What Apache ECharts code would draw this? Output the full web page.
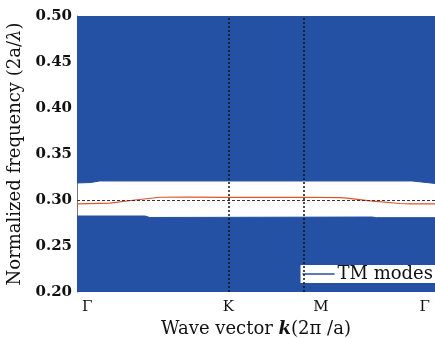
<!DOCTYPE html>
<html>
<head>
<meta charset="utf-8">
<script src="https://cdn.jsdelivr.net/npm/echarts@6/dist/echarts.min.js"></script>
<style>
  html, body { margin: 0; padding: 0; background: #fff; }
  #chart { width: 435px; height: 338px; }
</style>
</head>
<body>
<div id="chart"></div>
<script>
// symmetry points along Γ-K-M-Γ (units 2π/a)
const kPoints = [0, 0.667, 1.0, 1.577]
const kLabels = ['Γ', 'K', 'M', 'Γ']

// lower edge of the gap (top of the lower TM band block)
const lowerK = [0, 0.30, 0.32, 1.30, 1.32, 1.577]
const lowerF = [0.2826, 0.2826, 0.2810, 0.2815, 0.2808, 0.2808]

// upper edge of the gap (bottom of the upper TM band block)
const upperK = [0, 0.06, 0.10, 1.476, 1.577]
const upperF = [0.3185, 0.3190, 0.3207, 0.3207, 0.3180]

// defect mode (red)
const defectK = [0, 0.145, 0.255, 0.366, 0.50, 0.667, 0.85, 1.0, 1.159, 1.189, 1.291, 1.423, 1.467, 1.577]
const defectF = [0.2957, 0.2965, 0.300, 0.3030, 0.3032, 0.3028, 0.3028, 0.3030, 0.3025, 0.3020, 0.2990, 0.2962, 0.2957, 0.2957]

const refFreq = 0.30

const pairs = (xs, ys) => xs.map((x, i) => [x, ys[i]])

const blue = '#2451a3'
const serif = '"DejaVu Serif", "Liberation Serif", serif'

const chart = echarts.init(document.getElementById('chart'))

const option = {
  animation: false,
  grid: { left: 77, right: 0, top: 16, bottom: 46, outerBoundsMode: 'none' },
  legend: {
    data: ['TM modes'],
    right: 0,
    bottom: 55,
    icon: 'rect',
    itemWidth: 32,
    itemHeight: 1.5,
    itemGap: 2,
    backgroundColor: '#fff',
    padding: [0, 2, 0, 2],
    textStyle: { fontFamily: serif, fontSize: 18, color: '#111', lineHeight: 16, padding: [0, 0, 0, -2] }
  },
  xAxis: {
    type: 'value',
    min: 0,
    max: 1.577,
    name: 'Wave vector {b|k}(2π /a)',
    nameLocation: 'middle',
    nameGap: 27,
    nameTextStyle: {
      fontFamily: serif, fontSize: 18, color: '#111',
      rich: { b: { fontFamily: serif, fontSize: 18, fontWeight: 'bold', fontStyle: 'italic', color: '#111' } }
    },
    splitLine: { show: false },
    axisLine: { show: false },
    axisTick: { show: false },
    axisLabel: {
      customValues: kPoints,
      alignMinLabel: 'left',
      alignMaxLabel: 'right',
      margin: 8,
      padding: [0, 5, 0, 5],
      fontFamily: serif, fontSize: 15, color: '#111',
      formatter: v => {
        const lab = kLabels[kPoints.indexOf(v)] || ''
        return v === kPoints[2] ? '{m|' + lab + '}' : lab
      },
      rich: { m: { fontFamily: serif, fontSize: 15, color: '#111', padding: [0, 0, 0, 34] } }
    }
  },
  yAxis: {
    type: 'value',
    min: 0.2,
    max: 0.5,
    interval: 0.05,
    name: 'Normalized frequency (2a/{i|λ})',
    nameLocation: 'middle',
    nameGap: 50,
    nameTextStyle: {
      fontFamily: serif, fontSize: 18, color: '#111',
      rich: { i: { fontFamily: serif, fontSize: 18, fontStyle: 'italic', color: '#111' } }
    },
    splitLine: { show: false },
    axisLine: { show: true, lineStyle: { color: '#777', width: 1 } },
    axisTick: { show: false },
    axisLabel: {
      margin: 5,
      fontFamily: serif, fontSize: 15, fontWeight: 'bold', color: '#111',
      formatter: v => v.toFixed(2)
    }
  },
  series: [
    {
      name: 'TM modes',
      type: 'line',
      data: pairs(lowerK, lowerF),
      showSymbol: false,
      lineStyle: { color: blue, width: 1 },
      itemStyle: { color: blue },
      areaStyle: { color: blue, opacity: 1, origin: 'start' },
      z: 1
    },
    {
      name: 'TM modes',
      type: 'line',
      data: pairs(upperK, upperF),
      showSymbol: false,
      lineStyle: { color: blue, width: 1 },
      itemStyle: { color: blue },
      areaStyle: { color: blue, opacity: 1, origin: 'end' },
      z: 1,
      markLine: {
        silent: true,
        symbol: 'none',
        label: { show: false },
        lineStyle: { color: '#111', type: [2, 2], width: 1.5 },
        data: [
          { xAxis: kPoints[1] },
          { xAxis: kPoints[2] },
          { yAxis: refFreq, lineStyle: { color: '#333', type: [3, 2], width: 1 } }
        ]
      }
    },
    {
      name: 'defect',
      type: 'line',
      data: pairs(defectK, defectF),
      showSymbol: false,
      lineStyle: { color: '#de532c', width: 1.2 },
      z: 3
    }
  ]
}

chart.setOption(option)
</script>
</body>
</html>
